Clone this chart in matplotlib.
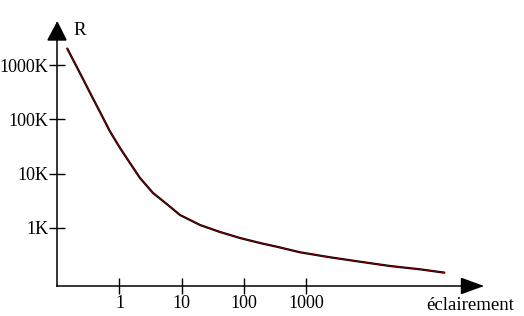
import matplotlib
matplotlib.use("Agg")
import matplotlib.pyplot as plt
from matplotlib.patches import Polygon

# light level (lux) vs resistance (kOhm)
lux = [0.143, 0.25, 0.361, 0.486, 0.703, 1.02, 1.475, 2.136, 3.456, 6.02,
       9.39, 19.7, 41.3, 86.6, 181.5, 353, 798, 2422, 7350, 22300, 67800, 171000]
res_k = [2065, 600, 263, 136.8, 60, 29.7, 15.7, 8.33, 4.41, 2.65,
         1.735, 1.136, 0.844, 0.654, 0.529, 0.447, 0.357, 0.289, 0.2395, 0.1996, 0.1735, 0.150]

xticks = [1, 10, 100, 1000]
xticklabels = ["1", "10", "100", "1000"]
yticks = [1, 10, 100, 1000]
yticklabels = ["1K", "10K", "100K", "1000K"]

plt.rcParams['font.family'] = ['Liberation Serif', 'DejaVu Serif']

W, H = 524, 316
fig = plt.figure(figsize=(W / 100, H / 100), dpi=100)

# pixel frame of the axes (origin at the arrow corner)
x0, x1 = 57.3, 482.0
y0, y1 = 286.0, 23.0
ax = fig.add_axes([x0 / W, 1 - y0 / H, (x1 - x0) / W, (y0 - y1) / H])
ax.set_xscale('log')
ax.set_yscale('log')
ax.set_xlim(0.1, 10 ** ((x1 - x0) / 62.2 - 1))
ax.set_ylim(10 ** ((228 - y0) / 54.3), 10 ** ((228 - y1) / 54.3))

ax.plot(lux, res_k, color='black', lw=1.6, solid_capstyle='butt')
ax.plot(lux, res_k, color='#8b0000', lw=0.7)

for s in ['top', 'right']:
    ax.spines[s].set_visible(False)
for s in ['left', 'bottom']:
    ax.spines[s].set_linewidth(1.1)

ax.set_xticks(xticks)
ax.set_xticklabels(xticklabels)
ax.set_yticks(yticks)
ax.set_yticklabels(yticklabels)
ax.minorticks_off()
ax.tick_params(axis='x', direction='inout', length=11, width=1, pad=1, labelsize=13)
ax.tick_params(axis='y', direction='inout', length=12, width=1, pad=0.3, labelsize=13)

# arrow heads
def px(x, y):
    return (x / W, 1 - y / H)

fig.patches.append(Polygon([px(48, 40), px(66, 40), px(57.3, 22.5)], closed=True,
                           color='black', transform=fig.transFigure, figure=fig))
fig.patches.append(Polygon([px(461.5, 278.5), px(461.5, 293.5), px(482, 286)], closed=True,
                           color='black', transform=fig.transFigure, figure=fig))

fig.text(73 / W, 1 - 35 / H, "R", fontsize=13.5, ha='left', va='baseline')
fig.text(514 / W, 1 - 310 / H, "éclairement", fontsize=13.5, ha='right', va='baseline')

fig.savefig("out.png", dpi=100)
